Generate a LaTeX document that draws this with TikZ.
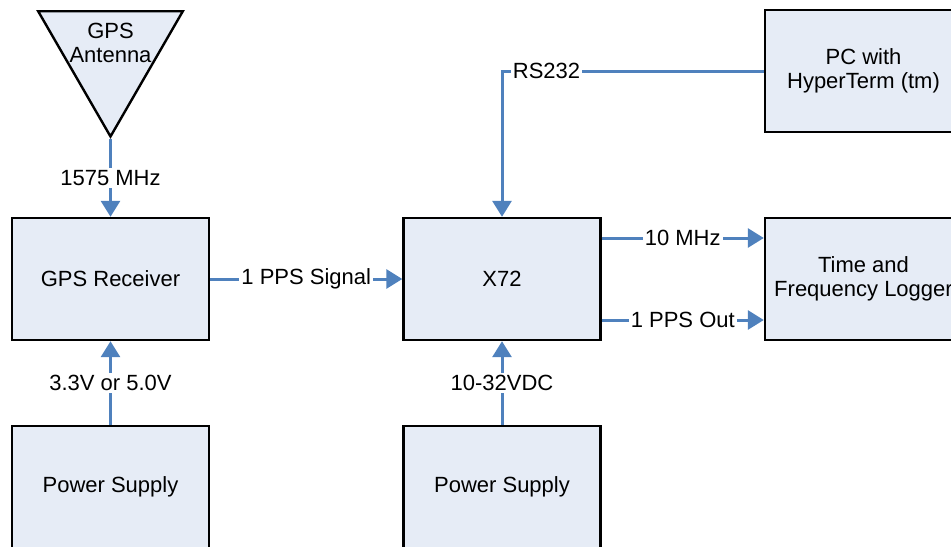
\documentclass[tikz,border=0pt]{standalone}
\usepackage{fontspec}
\setmainfont{Liberation Sans}
\usetikzlibrary{shapes.geometric, arrows.meta, positioning}
\definecolor{boxfill}{RGB}{230,236,246}
\definecolor{wireblue}{RGB}{79,129,189}

\begin{document}
\begin{tikzpicture}[node distance=104pt, font=\fontsize{11pt}{11.7pt}\selectfont]
\tikzstyle{block} = [rectangle, minimum width=98.5pt, minimum height=61pt, text centered, align=center, draw=black, line width=1.2pt, fill=boxfill]
\tikzstyle{antenna} = [regular polygon, regular polygon sides=3, shape border rotate=180, minimum size=83.5pt, draw=black, line width=1.2pt, fill=boxfill]
\tikzstyle{wire} = [line width=1.5pt, draw=wireblue, -{Triangle[width=9.5pt,length=8pt]}]
\tikzstyle{tag} = [fill=white, inner sep=1pt]

\clip (0,0) rectangle (475.5pt,-273pt);

\node (rx) [block] at (55.25pt,-139.5pt) {GPS Receiver};
\node (ant) [antenna, above of=rx, yshift=9pt, label={[align=center, yshift=5pt]center:GPS\\Antenna}] {};
\node (x72) [block, right of=rx, xshift=91.75pt] {X72};
\node (log) [block, right of=x72, xshift=76.75pt] {Time and\\Frequency Logger};
\node (pc) [block, above of=log] {PC with\\HyperTerm (tm)};
\node (ps1) [block, below of=rx] {Power Supply};
\node (ps2) [block, below of=x72] {Power Supply};

\draw [wire] (ant) -- node[tag] {1575 MHz} (rx);
\draw [wire] (rx) -- node[tag] {1 PPS Signal} (x72);
\draw [wire] (ps1) -- node[tag] {3.3V or 5.0V} (rx);
\draw [wire] (ps2) -- node[tag] {10-32VDC} (x72);
\draw [wire] (pc) -| node[tag, pos=0.415] {RS232} (x72);
\draw [wire] ([yshift=20.5pt]x72.east) -- node[tag] {10 MHz} ([yshift=20.5pt]log.west);
\draw [wire] ([yshift=-20.5pt]x72.east) -- node[tag] {1 PPS Out} ([yshift=-20.5pt]log.west);
\end{tikzpicture}
\end{document}
